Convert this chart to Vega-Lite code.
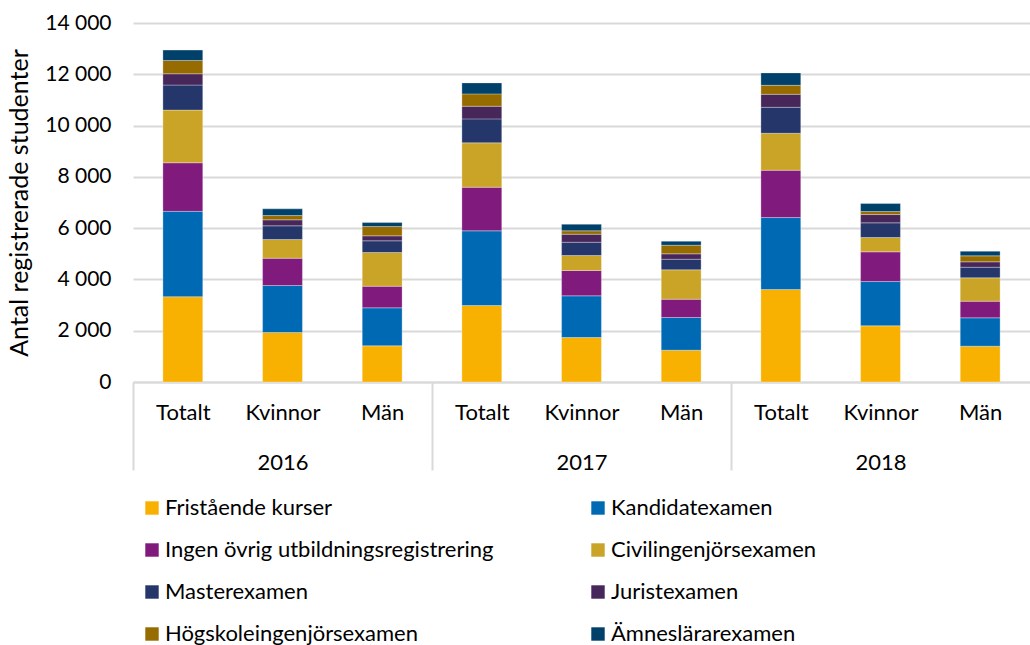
{
  "$schema": "https://vega.github.io/schema/vega-lite/v6.json",
  "width": 897,
  "height": 359,
  "autosize": {"type": "none"},
  "padding": {"left": 133, "top": 23, "right": 0, "bottom": 263},
  "background": "white",
  "config": {"font": "Lato", "view": {"stroke": null}},
  "data": {"values": [
    {"year": "2016", "group": "Totalt", "type": "Fristående kurser", "value": 3326},
    {"year": "2016", "group": "Totalt", "type": "Kandidatexamen", "value": 3329},
    {"year": "2016", "group": "Totalt", "type": "Ingen övrig utbildningsregistrering", "value": 1895},
    {"year": "2016", "group": "Totalt", "type": "Civilingenjörsexamen", "value": 2054},
    {"year": "2016", "group": "Totalt", "type": "Masterexamen", "value": 976},
    {"year": "2016", "group": "Totalt", "type": "Juristexamen", "value": 440},
    {"year": "2016", "group": "Totalt", "type": "Högskoleingenjörsexamen", "value": 520},
    {"year": "2016", "group": "Totalt", "type": "Ämneslärarexamen", "value": 404},
    {"year": "2016", "group": "Kvinnor", "type": "Fristående kurser", "value": 1930},
    {"year": "2016", "group": "Kvinnor", "type": "Kandidatexamen", "value": 1832},
    {"year": "2016", "group": "Kvinnor", "type": "Ingen övrig utbildningsregistrering", "value": 1065},
    {"year": "2016", "group": "Kvinnor", "type": "Civilingenjörsexamen", "value": 729},
    {"year": "2016", "group": "Kvinnor", "type": "Masterexamen", "value": 534},
    {"year": "2016", "group": "Kvinnor", "type": "Juristexamen", "value": 234},
    {"year": "2016", "group": "Kvinnor", "type": "Högskoleingenjörsexamen", "value": 167},
    {"year": "2016", "group": "Kvinnor", "type": "Ämneslärarexamen", "value": 261},
    {"year": "2016", "group": "Män", "type": "Fristående kurser", "value": 1411},
    {"year": "2016", "group": "Män", "type": "Kandidatexamen", "value": 1482},
    {"year": "2016", "group": "Män", "type": "Ingen övrig utbildningsregistrering", "value": 842},
    {"year": "2016", "group": "Män", "type": "Civilingenjörsexamen", "value": 1314},
    {"year": "2016", "group": "Män", "type": "Masterexamen", "value": 456},
    {"year": "2016", "group": "Män", "type": "Juristexamen", "value": 195},
    {"year": "2016", "group": "Män", "type": "Högskoleingenjörsexamen", "value": 362},
    {"year": "2016", "group": "Män", "type": "Ämneslärarexamen", "value": 156},
    {"year": "2017", "group": "Totalt", "type": "Fristående kurser", "value": 2982},
    {"year": "2017", "group": "Totalt", "type": "Kandidatexamen", "value": 2913},
    {"year": "2017", "group": "Totalt", "type": "Ingen övrig utbildningsregistrering", "value": 1700},
    {"year": "2017", "group": "Totalt", "type": "Civilingenjörsexamen", "value": 1731},
    {"year": "2017", "group": "Totalt", "type": "Masterexamen", "value": 935},
    {"year": "2017", "group": "Totalt", "type": "Juristexamen", "value": 492},
    {"year": "2017", "group": "Totalt", "type": "Högskoleingenjörsexamen", "value": 483},
    {"year": "2017", "group": "Totalt", "type": "Ämneslärarexamen", "value": 429},
    {"year": "2017", "group": "Kvinnor", "type": "Fristående kurser", "value": 1735},
    {"year": "2017", "group": "Kvinnor", "type": "Kandidatexamen", "value": 1626},
    {"year": "2017", "group": "Kvinnor", "type": "Ingen övrig utbildningsregistrering", "value": 986},
    {"year": "2017", "group": "Kvinnor", "type": "Civilingenjörsexamen", "value": 585},
    {"year": "2017", "group": "Kvinnor", "type": "Masterexamen", "value": 518},
    {"year": "2017", "group": "Kvinnor", "type": "Juristexamen", "value": 312},
    {"year": "2017", "group": "Kvinnor", "type": "Högskoleingenjörsexamen", "value": 133},
    {"year": "2017", "group": "Kvinnor", "type": "Ämneslärarexamen", "value": 257},
    {"year": "2017", "group": "Män", "type": "Fristående kurser", "value": 1240},
    {"year": "2017", "group": "Män", "type": "Kandidatexamen", "value": 1275},
    {"year": "2017", "group": "Män", "type": "Ingen övrig utbildningsregistrering", "value": 713},
    {"year": "2017", "group": "Män", "type": "Civilingenjörsexamen", "value": 1146},
    {"year": "2017", "group": "Män", "type": "Masterexamen", "value": 414},
    {"year": "2017", "group": "Män", "type": "Juristexamen", "value": 210},
    {"year": "2017", "group": "Män", "type": "Högskoleingenjörsexamen", "value": 335},
    {"year": "2017", "group": "Män", "type": "Ämneslärarexamen", "value": 156},
    {"year": "2018", "group": "Totalt", "type": "Fristående kurser", "value": 3606},
    {"year": "2018", "group": "Totalt", "type": "Kandidatexamen", "value": 2807},
    {"year": "2018", "group": "Totalt", "type": "Ingen övrig utbildningsregistrering", "value": 1844},
    {"year": "2018", "group": "Totalt", "type": "Civilingenjörsexamen", "value": 1443},
    {"year": "2018", "group": "Totalt", "type": "Masterexamen", "value": 1013},
    {"year": "2018", "group": "Totalt", "type": "Juristexamen", "value": 507},
    {"year": "2018", "group": "Totalt", "type": "Högskoleingenjörsexamen", "value": 351},
    {"year": "2018", "group": "Totalt", "type": "Ämneslärarexamen", "value": 484},
    {"year": "2018", "group": "Kvinnor", "type": "Fristående kurser", "value": 2191},
    {"year": "2018", "group": "Kvinnor", "type": "Kandidatexamen", "value": 1727},
    {"year": "2018", "group": "Kvinnor", "type": "Ingen övrig utbildningsregistrering", "value": 1158},
    {"year": "2018", "group": "Kvinnor", "type": "Civilingenjörsexamen", "value": 558},
    {"year": "2018", "group": "Kvinnor", "type": "Masterexamen", "value": 572},
    {"year": "2018", "group": "Kvinnor", "type": "Juristexamen", "value": 324},
    {"year": "2018", "group": "Kvinnor", "type": "Högskoleingenjörsexamen", "value": 117},
    {"year": "2018", "group": "Kvinnor", "type": "Ämneslärarexamen", "value": 312},
    {"year": "2018", "group": "Män", "type": "Fristående kurser", "value": 1396},
    {"year": "2018", "group": "Män", "type": "Kandidatexamen", "value": 1107},
    {"year": "2018", "group": "Män", "type": "Ingen övrig utbildningsregistrering", "value": 647},
    {"year": "2018", "group": "Män", "type": "Civilingenjörsexamen", "value": 912},
    {"year": "2018", "group": "Män", "type": "Masterexamen", "value": 414},
    {"year": "2018", "group": "Män", "type": "Juristexamen", "value": 210},
    {"year": "2018", "group": "Män", "type": "Högskoleingenjörsexamen", "value": 234},
    {"year": "2018", "group": "Män", "type": "Ämneslärarexamen", "value": 179}
  ]},
  "transform": [
    {"calculate": "datum.year + '|' + datum.group", "as": "bar"},
    {"calculate": "indexof(['Fristående kurser','Kandidatexamen','Ingen övrig utbildningsregistrering','Civilingenjörsexamen','Masterexamen','Juristexamen','Högskoleingenjörsexamen','Ämneslärarexamen'], datum.type)", "as": "stackorder"}
  ],
  "mark": {"type": "bar", "stroke": "white", "strokeWidth": 0.6, "strokeOpacity": 0.5},
  "encoding": {
    "x": {
      "field": "bar", "type": "nominal", "sort": null,
      "scale": {"paddingInner": 0.6, "paddingOuter": 0.3},
      "axis": {
        "title": null,
        "labelAngle": 0,
        "labelExpr": "isString(datum.value) ? (split(datum.value, '|')[1] == 'Kvinnor' ? ['Kvinnor', split(datum.value, '|')[0]] : split(datum.value, '|')[1]) : ''",
        "labelFontSize": 22,
        "labelColor": "#000000",
        "labelLineHeight": 50,
        "labelBaseline": "middle",
        "labelPadding": -58,
        "labelOffset": 49.83,
        "labelOverlap": false,
        "labelBound": false,
        "tickOffset": -49.83,
        "tickSize": 88,
        "tickWidth": 2,
        "tickColor": "#d9d9d9",
        "tickOpacity": {"condition": {"test": "isString(datum.value) && test(/Totalt/, datum.value)", "value": 1}, "value": 0},
        "domainColor": "#d9d9d9",
        "domainWidth": 2
      }
    },
    "y": {
      "field": "value", "type": "quantitative",
      "scale": {"domain": [0, 14000]},
      "axis": {
        "title": "Antal registrerade studenter",
        "titleFontSize": 25,
        "titleFontWeight": "normal",
        "titleColor": "#000000",
        "titlePadding": 12,
        "values": [0, 2000, 4000, 6000, 8000, 10000, 12000, 14000],
        "labelExpr": "replace(format(datum.value, ','), ',', ' ')",
        "labelFontSize": 21,
        "labelColor": "#000000",
        "labelPadding": 22,
        "domain": false,
        "ticks": false,
        "gridColor": "#d9d9d9",
        "gridWidth": 2
      }
    },
    "color": {
      "field": "type", "type": "nominal",
      "scale": {
        "domain": ["Fristående kurser", "Ingen övrig utbildningsregistrering", "Masterexamen", "Högskoleingenjörsexamen", "Kandidatexamen", "Civilingenjörsexamen", "Juristexamen", "Ämneslärarexamen"],
        "range": ["#f8b100", "#801a7c", "#25366a", "#966c00", "#0069b4", "#c9a427", "#47275a", "#00416b"]
      },
      "legend": {
        "orient": "none",
        "legendX": 8,
        "legendY": 474,
        "columns": 2,
        "title": null,
        "symbolType": "square",
        "symbolSize": 180,
        "symbolStrokeWidth": 0,
        "labelFontSize": 22,
        "labelColor": "#000000",
        "labelOffset": 2,
        "labelLimit": 600,
        "rowPadding": 20,
        "columnPadding": 93,
        "padding": 0
      }
    },
    "order": {"field": "stackorder", "type": "quantitative"}
  }
}
